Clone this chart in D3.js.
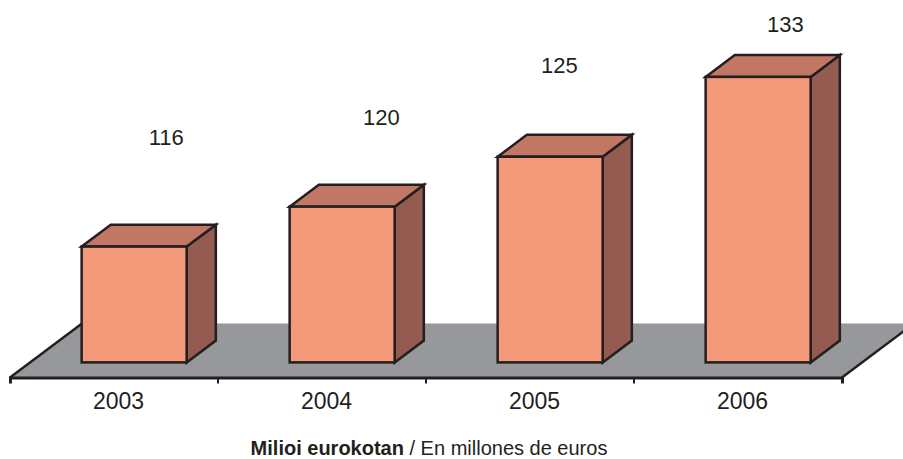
<!DOCTYPE html>
<html>
<head>
<meta charset="utf-8">
<script src="https://cdnjs.cloudflare.com/ajax/libs/d3/7.8.5/d3.min.js"></script>
<style>
  body { margin: 0; background: #fff; }
  text { font-family: "Liberation Sans", Arial, sans-serif; fill: #231f20; }
</style>
</head>
<body>
<div id="root"></div>
<script>
const years = ["2003", "2004", "2005", "2006"]
const values = [116, 120, 125, 133]
// Excel nudged the data labels around, these are small shifts from the bar top
const labelShift = [[3, -20], [10, 0], [-20, -1.5], [-2, 37]]

function drawChart() {
  const ROOT_ELEM = d3.select("#root")
  ROOT_ELEM.selectAll("*").remove()

  const dimension = {
    width: 903,
    height: 459,
    floorLeft: 10,
    floorRight: 842,
    floorY: 377.5,
    depthX: 72,
    depthY: 54,
  }
  const { width, height } = dimension

  const wrapper = ROOT_ELEM.append("svg")
    .attr("width", width)
    .attr("height", height)

  // scales
  const xScale = d3.scaleBand()
    .domain(years)
    .range([dimension.floorLeft, dimension.floorRight])

  const hScale = d3.scaleLinear()
    .domain([104.4, 133])
    .range([0, 285.5])

  const dx = d3.scaleLinear().domain([0, 1]).range([0, dimension.depthX])
  const dy = d3.scaleLinear().domain([0, 1]).range([0, -dimension.depthY])

  const zFront = 0.28
  const zBack = 0.685
  const barWidth = xScale.bandwidth() * 0.505
  const bdx = dx(zBack - zFront)
  const bdy = dy(zBack - zFront)

  // floor
  const fl = dimension.floorLeft, fr = dimension.floorRight, fy = dimension.floorY
  wrapper.append("polygon")
    .attr("points", [
      [fl, fy], [fr, fy], [fr + dx(1), fy + dy(1)], [fl + dx(1), fy + dy(1)],
    ].join(" "))
    .attr("fill", "#97989c")

  wrapper.append("path")
    .attr("d", d3.line()([[fl + dx(1), fy + dy(1)], [fl, fy]]))
    .attr("stroke", "#231f20")
    .attr("stroke-width", 2.5)
  wrapper.append("path")
    .attr("d", d3.line()([[fr, fy], [fr + dx(1), fy + dy(1)]]))
    .attr("stroke", "#231f20")
    .attr("stroke-width", 2.5)

  // axis
  const xAxisGenerator = d3.axisBottom(xScale)
    .tickSize(0)
    .tickSizeOuter(6)
    .tickPadding(15)

  const xAxis = wrapper.append("g")
    .attr("transform", `translate(0, ${fy})`)
    .call(xAxisGenerator)
  xAxis.select(".domain")
    .attr("stroke", "#231f20")
    .attr("stroke-width", 3)
  xAxis.selectAll(".tick text")
    .attr("dx", 4.5)
    .style("font-size", "23px")
    .attr("fill", "#231f20")

  xAxis.selectAll(".sep")
    .data(years.slice(1))
    .join("line")
    .attr("class", "sep")
    .attr("x1", d => xScale(d))
    .attr("x2", d => xScale(d))
    .attr("y1", 0)
    .attr("y2", 6)
    .attr("stroke", "#231f20")
    .attr("stroke-width", 2)

  // bars
  const bars = years.map((year, i) => {
    const x0 = xScale(year) + (xScale.bandwidth() - barWidth) / 2 + dx(zFront)
    const y0 = fy + dy(zFront)
    const top = y0 - hScale(values[i])
    return { year, value: values[i], x0, y0, top, shift: labelShift[i] }
  })

  const barGroups = wrapper.selectAll(".bar")
    .data(bars)
    .join("g")
    .attr("class", "bar")
    .attr("stroke", "#231f20")
    .attr("stroke-width", 2.5)

  barGroups.append("polygon")
    .attr("points", d => [
      [d.x0 + barWidth, d.top], [d.x0 + barWidth + bdx, d.top + bdy],
      [d.x0 + barWidth + bdx, d.y0 + bdy], [d.x0 + barWidth, d.y0],
    ].join(" "))
    .attr("fill", "#955b50")

  barGroups.append("polygon")
    .attr("points", d => [
      [d.x0, d.top], [d.x0 + barWidth, d.top],
      [d.x0 + barWidth + bdx, d.top + bdy], [d.x0 + bdx, d.top + bdy],
    ].join(" "))
    .attr("fill", "#c27764")

  barGroups.append("rect")
    .attr("x", d => d.x0)
    .attr("y", d => d.top)
    .attr("width", barWidth)
    .attr("height", d => d.y0 - d.top)
    .attr("fill", "#f4987a")

  // value labels
  wrapper.selectAll(".value")
    .data(bars)
    .join("text")
    .attr("class", "value")
    .attr("x", d => d.x0 + barWidth / 2 + bdx + d.shift[0])
    .attr("y", d => d.top + bdy - 60 + d.shift[1])
    .attr("text-anchor", "middle")
    .style("font-size", "22px")
    .text(d => d.value)

  // caption
  const caption = wrapper.append("text")
    .attr("x", 429)
    .attr("y", 455)
    .attr("text-anchor", "middle")
    .style("font-size", "20px")
  caption.append("tspan")
    .attr("font-weight", "bold")
    .text("Milioi eurokotan")
  caption.append("tspan")
    .text(" / En millones de euros")
}

drawChart()
</script>
</body>
</html>
